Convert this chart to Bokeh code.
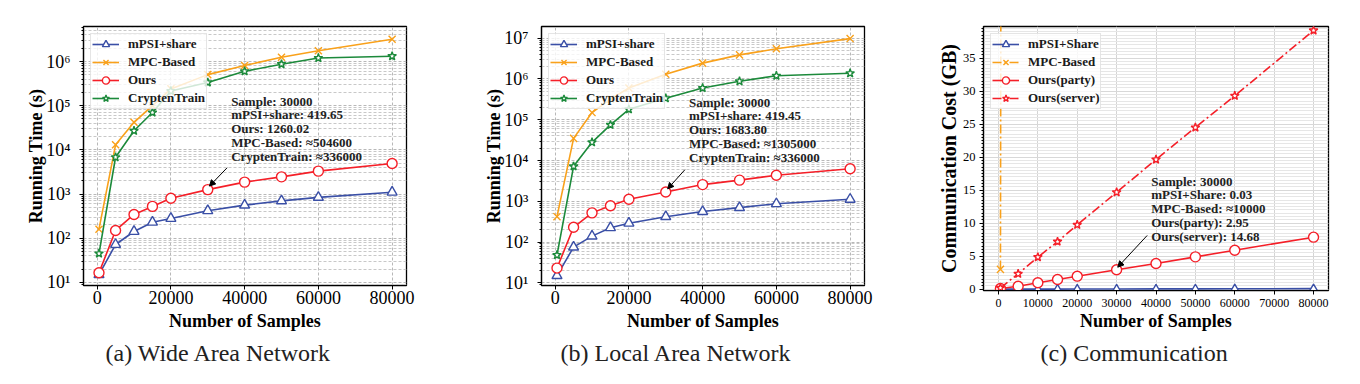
from bokeh.plotting import figure
from bokeh.models import Legend, LegendItem, Label, Arrow, NormalHead, FixedTicker, Range1d, Title
from bokeh.layouts import row
from bokeh.embed import file_html
from bokeh.resources import INLINE

# ---------------- data ----------------
samples = [500, 5000, 10000, 15000, 20000, 30000, 40000, 50000, 60000, 80000]

wan_mpsi = [15, 72, 142, 230, 280, 419.65, 560, 700, 840, 1100]
wan_ours = [16.5, 150, 345, 525, 800, 1260.02, 1860, 2450, 3300, 4900]
wan_mpc = [160, 13000, 42000, 100000, 240000, 504600, 810000, 1250000, 1750000, 3200000]
wan_crypten = [45, 6800, 27000, 70000, 215000, 336000, 600000, 870000, 1200000, 1320000]

lan_mpsi = [15, 75, 140, 225, 290, 419.45, 560, 700, 870, 1120]
lan_ours = [23, 230, 520, 780, 1120, 1683.80, 2570, 3300, 4350, 6300]
lan_mpc = [420, 35000, 150000, 320000, 600000, 1305000, 2450000, 3900000, 5500000, 9800000]
lan_crypten = [48, 7200, 28000, 75000, 180000, 336000, 600000, 880000, 1200000, 1380000]

comm_mpsi = [0.001, 0.005, 0.01, 0.015, 0.02, 0.03, 0.04, 0.05, 0.06, 0.08]
comm_mpc = [3.0, 1700, 3400, 5000, 6700, 10000, 13400, 16700, 20000, 26800]
comm_party = [0.1, 0.45, 0.97, 1.47, 1.97, 2.95, 3.9, 4.9, 5.9, 7.88]
comm_server = [0.2, 2.33, 4.85, 7.2, 9.75, 14.68, 19.65, 24.5, 29.3, 39.2]

time_ticks_x = [0, 20000, 40000, 60000, 80000]
comm_ticks_x = [0, 10000, 20000, 30000, 40000, 50000, 60000, 70000, 80000]
comm_ticks_y = [0, 5, 10, 15, 20, 25, 30, 35]
decades = [10, 100, 1000, 10000, 100000, 1000000, 10000000]
decade_labels = ["10\u00b9", "10\u00b2", "10\u00b3", "10\u2074", "10\u2075", "10\u2076", "10\u2077"]

ann_wan = "Sample: 30000\nmPSI+share: 419.65\nOurs: 1260.02\nMPC-Based: \u2248504600\nCryptenTrain: \u2248336000"
ann_lan = "Sample: 30000\nmPSI+share: 419.45\nOurs: 1683.80\nMPC-Based: \u22481305000\nCryptenTrain: \u2248336000"
ann_comm = "Sample: 30000\nmPSI+Share: 0.03\nMPC-Based: \u224810000\nOurs(party): 2.95\nOurs(server): 14.68"

captions = ["(a) Wide Area Network", "(b) Local Area Network", "(c) Communication"]

BLUE = "#3a4fa6"
ORANGE = "#f9a11b"
RED = "#f51f28"
GREEN = "#1c8a3b"
SERIF = "Liberation Serif"


def base_fig(w, h, left, right, top, bottom, ylog, xr, yr):
    p = figure(frame_width=w, frame_height=h, min_border_left=left, min_border_right=right,
               min_border_top=top, min_border_bottom=bottom,
               y_axis_type="log" if ylog else "linear",
               x_range=Range1d(*xr), y_range=Range1d(*yr),
               output_backend="svg", toolbar_location=None)
    p.outline_line_color = "black"
    p.outline_line_width = 1.3
    p.background_fill_color = "white"
    p.border_fill_color = "white"
    for ax in (p.xaxis[0], p.yaxis[0]):
        ax.axis_line_color = "black"
        ax.axis_line_width = 1.2
        ax.major_tick_line_color = "black"
        ax.minor_tick_line_color = "black"
        ax.major_tick_out = 4
        ax.major_tick_in = 0
        ax.minor_tick_out = 2
        ax.minor_tick_in = 0
        ax.major_label_text_font = SERIF
        ax.axis_label_text_font = SERIF
        ax.axis_label_text_font_style = "bold"
        ax.axis_label_text_color = "black"
        ax.major_label_text_color = "black"
    p.xaxis.minor_tick_line_color = None
    return p


def add_caption(p, text, offset, standoff):
    t = Title(text=text, align="left", offset=offset, standoff=standoff,
              text_font=SERIF, text_font_style="normal", text_font_size="24px",
              text_color="#222222")
    p.add_layout(t, "below")


def add_series(p, x, y, color, marker, size, label, dash="solid", items=None):
    l = p.line(x, y, line_color=color, line_width=1.6, line_dash=dash)
    s = p.scatter(x, y, marker=marker, size=size, line_color=color, fill_color="white",
                  line_width=1.4)
    items.append(LegendItem(label=label, renderers=[l, s]))


def add_legend(p, items):
    lg = Legend(items=items, location="top_left", margin=7, padding=1, spacing=0,
                label_height=18, glyph_height=18, glyph_width=27, label_standoff=9,
                label_text_font=SERIF, label_text_font_style="bold",
                label_text_font_size="13px", label_text_color="#1a1a1a",
                border_line_color="#cccccc", border_line_width=1,
                background_fill_color="white", background_fill_alpha=0.8)
    p.add_layout(lg)


def time_panel(mpsi, ours, mpc, crypten, yr, left, right, ann, ann_x, ann_top, arrow):
    p = base_fig(323, 259, left, right, 26, 99, True, (-3700, 83900), yr)
    p.xaxis.ticker = FixedTicker(ticks=time_ticks_x)
    minors = [m * d for d in [1] + decades for m in range(2, 10)]
    p.yaxis.ticker = FixedTicker(ticks=decades, minor_ticks=minors)
    p.yaxis.major_label_overrides = {float(d): t for d, t in zip(decades, decade_labels)}
    p.xaxis.major_label_text_font_size = "18px"
    p.yaxis.major_label_text_font_size = "18px"
    p.xaxis.axis_label = "Number of Samples"
    p.yaxis.axis_label = "Running Time (s)"
    p.xaxis.axis_label_text_font_size = "18px"
    p.yaxis.axis_label_text_font_size = "18px"
    p.xaxis.major_label_standoff = 1
    p.yaxis.major_label_standoff = 9
    p.xaxis.axis_label_standoff = 4
    p.yaxis.axis_label_standoff = -3
    p.xgrid.grid_line_color = "#b8b8b8"
    p.xgrid.grid_line_dash = "3 2"
    p.ygrid.grid_line_color = "#b8b8b8"
    p.ygrid.grid_line_dash = "3 2"
    p.ygrid.minor_grid_line_color = "#c8c8c8"
    p.ygrid.minor_grid_line_dash = "3 2"
    items = []
    add_series(p, samples, mpsi, BLUE, "triangle", 10, "mPSI+share", items=items)
    add_series(p, samples, mpc, ORANGE, "x", 10, "MPC-Based", items=items)
    add_series(p, samples, ours, RED, "circle", 10, "Ours", items=items)
    add_series(p, samples, crypten, GREEN, "star", 9, "CryptenTrain", items=items)
    add_legend(p, items)
    p.add_layout(Label(x=ann_x, y=ann_top, x_units="data", y_units="screen", text=ann,
                       text_font=SERIF, text_font_style="bold", text_font_size="13px",
                       text_color="#222222", text_baseline="top", text_line_height=0.93))
    p.add_layout(Arrow(x_start=arrow[0], y_start=arrow[1], x_end=arrow[2], y_end=arrow[3],
                       line_color="black", line_width=1,
                       end=NormalHead(size=6, fill_color="black", line_color="black")))
    return p


pa = time_panel(wan_mpsi, wan_ours, wan_mpc, wan_crypten, (8.5, 6.2e6), 83, 54,
                ann_wan, 36340, 192, (35254, 3935, 30454, 1510))
add_caption(pa, captions[0], 22, 9)

pb = time_panel(lan_mpsi, lan_ours, lan_mpc, lan_crypten, (8.6, 1.94e7), 81, 56,
                ann_lan, 36300, 191, (35208, 5980, 30512, 2014))
add_caption(pb, captions[1], 19, 9)

# ---------------- communication panel ----------------
pc = base_fig(345, 264, 63, 24, 26, 94, False, (-3800, 83800), (-0.2, 39.8))
pc.xaxis.ticker = FixedTicker(ticks=comm_ticks_x)
pc.yaxis.ticker = FixedTicker(ticks=comm_ticks_y,
                              minor_ticks=[v * 0.5 for v in range(0, 80)])
pc.xaxis.major_label_text_font_size = "12px"
pc.yaxis.major_label_text_font_size = "12.5px"
pc.xaxis.axis_label = "Number of Samples"
pc.yaxis.axis_label = "Communication Cost (GB)"
pc.xaxis.axis_label_text_font_size = "18px"
pc.yaxis.axis_label_text_font_size = "20px"
pc.xaxis.major_label_standoff = 4
pc.yaxis.major_label_standoff = 4
pc.xaxis.axis_label_standoff = 1
pc.yaxis.axis_label_standoff = 0
pc.xgrid.grid_line_color = "#d4d4d4"
pc.ygrid.grid_line_color = "#d8d8d8"
pc.ygrid.minor_grid_line_color = "#e6e6e6"
items = []
add_series(pc, samples, comm_mpsi, BLUE, "triangle", 8, "mPSI+Share", items=items)
add_series(pc, samples, comm_mpc, ORANGE, "x", 10, "MPC-Based", dash="9 3 2 3", items=items)
add_series(pc, samples, comm_party, RED, "circle", 10, "Ours(party)", items=items)
add_series(pc, samples, comm_server, RED, "star", 9, "Ours(server)", dash="9 3 2 3", items=items)
add_legend(pc, items)
pc.add_layout(Label(x=38780, y=117, x_units="data", y_units="screen", text=ann_comm,
                    text_font=SERIF, text_font_style="bold", text_font_size="13px",
                    text_color="#222222", text_baseline="top", text_line_height=0.93))
pc.add_layout(Arrow(x_start=37761, y_start=8.14, x_end=30280, y_end=3.33,
                    line_color="black", line_width=1,
                    end=NormalHead(size=6, fill_color="black", line_color="black")))
add_caption(pc, captions[2], 57, 9)

layout = row(pa, pb, pc, spacing=0)
open("out.html", "w").write(file_html(layout, INLINE))
